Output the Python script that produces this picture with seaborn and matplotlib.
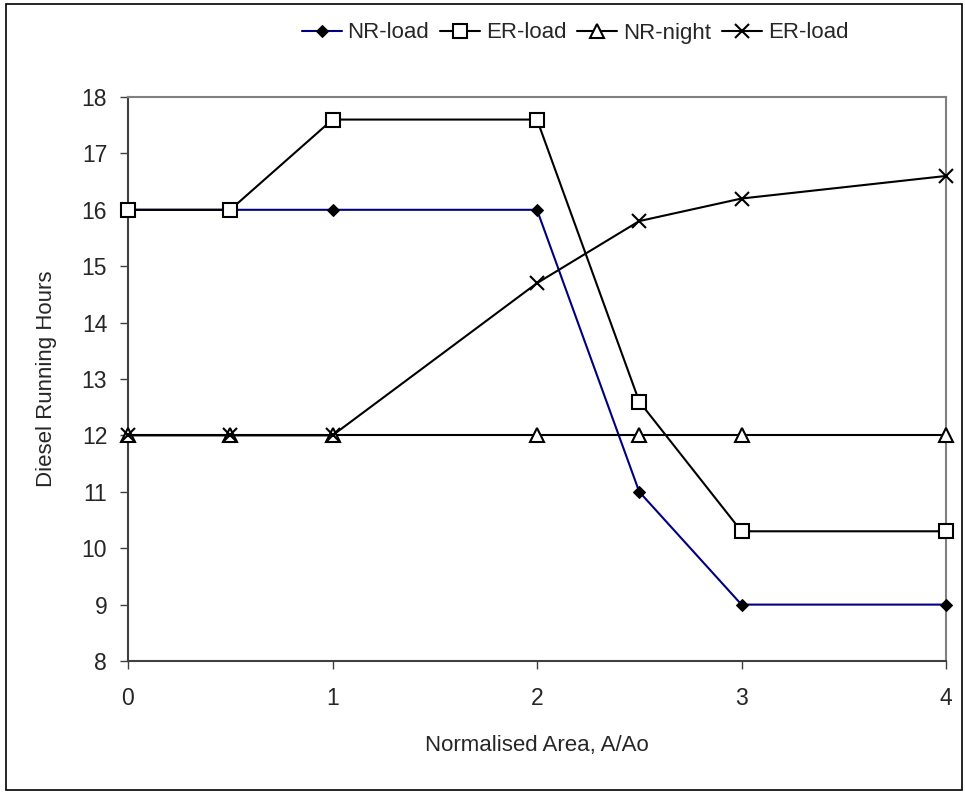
import matplotlib
matplotlib.use("Agg")
import matplotlib.pyplot as plt
import seaborn as sns
import numpy as np
from matplotlib.patches import Rectangle

sns.set_theme(style="white")
plt.rcParams['font.family'] = ['Liberation Sans', 'DejaVu Sans']

# Data
area = [0, 0.5, 1, 2, 2.5, 3, 4]
nr_load = [16, 16, 16, 16, 11, 9, 9]
er_load = [16, 16, 17.6, 17.6, 12.6, 10.3, 10.3]
nr_night = [12, 12, 12, 12, 12, 12, 12]
er_load2 = [12, 12, 12, 14.7, 15.8, 16.2, 16.6]
labels = ["NR-load", "ER-load", "NR-night", "ER-load"]
x_ticks = [0, 1, 2, 3, 4]
y_ticks = [8, 9, 10, 11, 12, 13, 14, 15, 16, 17, 18]

fig = plt.figure(figsize=(9.65, 7.92), dpi=100)
ax = fig.add_axes([128/965, 1-661/792, (946-128)/965, (661-97)/792])

sns.lineplot(x=area, y=nr_load, ax=ax, color="#000080", lw=1.5, marker="D",
             markersize=6, markerfacecolor="black", markeredgecolor="black",
             label=labels[0], zorder=3, clip_on=False)
sns.lineplot(x=area, y=er_load, ax=ax, color="black", lw=1.5, marker="s",
             markersize=9.5, markerfacecolor="white", markeredgecolor="black",
             markeredgewidth=1.5, label=labels[1], zorder=4, clip_on=False)
sns.lineplot(x=area, y=nr_night, ax=ax, color="black", lw=1.5, marker="^",
             markersize=9.5, markerfacecolor="white", markeredgecolor="black",
             markeredgewidth=1.5, label=labels[2], zorder=3, clip_on=False)
sns.lineplot(x=area, y=er_load2, ax=ax, color="black", lw=1.5, marker="x",
             markersize=9.5, markeredgecolor="black", markeredgewidth=1.5,
             label=labels[3], zorder=5, clip_on=False)

ax.set_xlim(0, 4)
ax.set_ylim(8, 18)
ax.set_xticks(x_ticks)
ax.set_yticks(y_ticks)
ax.tick_params(axis='both', which='major', direction='out', length=6, width=1,
               color="#404040", labelsize=16.5, left=True, bottom=True)
ax.tick_params(axis='x', pad=13)
ax.tick_params(axis='y', pad=9)
for s in ["left", "bottom"]:
    ax.spines[s].set_color("#404040")
    ax.spines[s].set_linewidth(1.5)
for s in ["top", "right"]:
    ax.spines[s].set_color("#808080")
    ax.spines[s].set_linewidth(1.5)
ax.grid(False)
ax.set_xlabel("Normalised Area, A/Ao", fontsize=16, labelpad=18)
ax.set_ylabel("Diesel Running Hours", fontsize=16, labelpad=18)

ax.get_legend().remove()
handles, labs = ax.get_legend_handles_labels()
fig.legend(handles, labs, loc="center", bbox_to_anchor=(575/965, 1-33/792),
           ncol=4, frameon=False, fontsize=16, handlelength=1.8,
           handletextpad=0.25, columnspacing=0.5)

fig.patches.append(Rectangle((6/965, 0.002), 956/965, 1-4/792-0.002,
                             transform=fig.transFigure, fill=False,
                             edgecolor="black", lw=1.2))

fig.savefig("out.png", dpi=100, facecolor="white")
